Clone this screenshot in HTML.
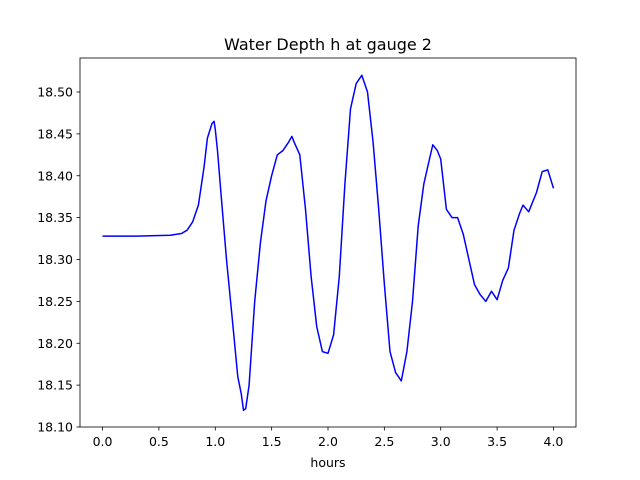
<!DOCTYPE html>
<html><head><meta charset="utf-8"><style>
body{margin:0;background:#fff;}
svg{display:block;font-family:"DejaVu Sans","Liberation Sans",sans-serif;}
</style></head><body>
<svg id="chart" width="640" height="480">
<rect width="640" height="480" fill="#fff"/>
<text x="328" y="50" text-anchor="middle" font-size="16">Water Depth h at gauge 2</text>
<g id="axes"></g>
</svg>
<script>
const hours=[0,0.3,0.6,0.7,0.75,0.8,0.85,0.9,0.93,0.97,0.99,1.0,1.02,1.05,1.1,1.15,1.2,1.23,1.25,1.27,1.3,1.35,1.4,1.45,1.5,1.55,1.6,1.65,1.68,1.7,1.75,1.8,1.85,1.9,1.95,2.0,2.05,2.1,2.15,2.2,2.25,2.3,2.35,2.4,2.45,2.5,2.55,2.6,2.65,2.7,2.75,2.8,2.85,2.9,2.93,2.97,3.0,3.05,3.1,3.15,3.2,3.25,3.3,3.35,3.4,3.45,3.5,3.55,3.6,3.65,3.7,3.73,3.78,3.85,3.9,3.95,4.0];
const depth=[18.328,18.328,18.329,18.331,18.335,18.345,18.365,18.41,18.445,18.462,18.465,18.455,18.43,18.38,18.30,18.23,18.16,18.14,18.12,18.122,18.15,18.25,18.32,18.37,18.40,18.425,18.43,18.44,18.447,18.44,18.425,18.36,18.28,18.22,18.19,18.188,18.21,18.28,18.39,18.48,18.51,18.52,18.50,18.44,18.36,18.27,18.19,18.165,18.155,18.19,18.25,18.34,18.39,18.42,18.437,18.43,18.42,18.36,18.35,18.35,18.33,18.30,18.27,18.258,18.25,18.262,18.252,18.275,18.29,18.335,18.355,18.365,18.357,18.38,18.405,18.407,18.385];
const xTicks=[0,0.5,1,1.5,2,2.5,3,3.5,4];
const xTickLabels=["0.0","0.5","1.0","1.5","2.0","2.5","3.0","3.5","4.0"];
const yTicks=[18.10,18.15,18.20,18.25,18.30,18.35,18.40,18.45,18.50];
const yTickLabels=["18.10","18.15","18.20","18.25","18.30","18.35","18.40","18.45","18.50"];
const L=80,R=576,T=58,B=427;
const x=v=>L+(v+0.2)/4.4*(R-L);
const y=v=>B-(v-18.10)/0.4406*(B-T);
const NS="http://www.w3.org/2000/svg";
const g=document.getElementById('axes');
function mk(t,a){const e=document.createElementNS(NS,t);for(const k in a)e.setAttribute(k,a[k]);g.appendChild(e);return e;}
let d=hours.map((h,i)=>(i?'L':'M')+x(h).toFixed(1)+' '+y(depth[i]).toFixed(1)).join(' ');
const line=mk('path',{d:d,fill:'none',stroke:'#0000ff','stroke-width':1.5,'stroke-linejoin':'round'});


const frame=mk('rect',{x:L,y:T,width:R-L,height:B-T,fill:'none',stroke:'#000','stroke-width':0.8});


xTicks.forEach((v,i)=>{
  mk('line',{x1:x(v),x2:x(v),y1:B,y2:B+3.5,stroke:'#000','stroke-width':0.8});
  const t=mk('text',{x:x(v),y:B+19,'text-anchor':'middle','font-size':12.5});
  t.textContent=xTickLabels[i];
  
  
});
yTicks.forEach((v,i)=>{
  mk('line',{x1:L-3.5,x2:L,y1:y(v),y2:y(v),stroke:'#000','stroke-width':0.8});
  const t=mk('text',{x:L-7,y:y(v)+4.5,'text-anchor':'end','font-size':12.5});
  t.textContent=yTickLabels[i];
  
  
});
const xl=mk('text',{x:(L+R)/2,y:467,'text-anchor':'middle','font-size':12.5});
xl.textContent='hours';


</script>
</body></html>
